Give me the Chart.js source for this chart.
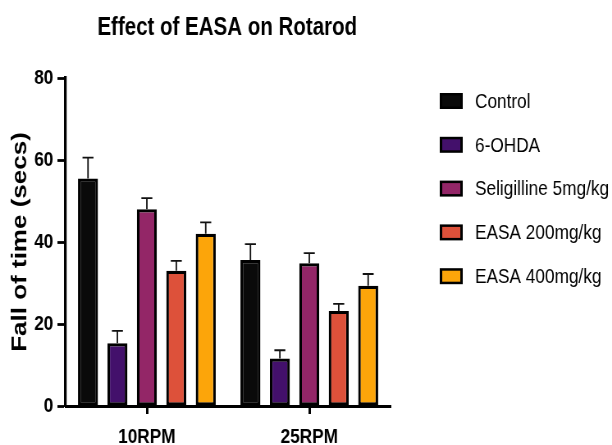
<!DOCTYPE html>
<html>
<head>
<meta charset="utf-8">
<script src="https://cdn.jsdelivr.net/npm/chart.js@4"></script>
<style>
  html, body { margin: 0; padding: 0; background: #fff; overflow: hidden; }
  #wrap { width: 612px; height: 445px; overflow: hidden; }
  /* the original figure is squeezed horizontally */
  #rotarodChart { transform: scaleX(0.8204); transform-origin: 0 0; display: block; }
</style>
</head>
<body>
<div id="wrap"><canvas id="rotarodChart" width="746" height="445"></canvas></div>
<script>
const categories = ['10RPM', '25RPM'];
const groups = ['Control', '6-OHDA', 'Seligilline 5mg/kg', 'EASA 200mg/kg', 'EASA 400mg/kg'];
const control = [55.5, 35.6];
const ohda = [15.3, 11.6];
const seligilline = [48.0, 34.8];
const easa200 = [33.0, 23.2];
const easa400 = [42.0, 29.3];
const controlErr = [5.1, 3.9];
const ohdaErr = [3.0, 2.0];
const seligilineErr = [2.7, 2.5];
const easa200Err = [2.4, 1.7];
const easa400Err = [2.8, 2.9];
const yTicks = [0, 20, 40, 60, 80];
const colors = ['#0a0a0a', '#43106b', '#932667', '#dd513a', '#fca50a'];

const font = "'Liberation Sans', Arial, sans-serif";

const values = [control, ohda, seligilline, easa200, easa400];
const errors = [controlErr, ohdaErr, seligilineErr, easa200Err, easa400Err];

// error bars (upper only, with a cap)
const errorBars = {
  id: 'errorBars',
  afterDatasetsDraw(chart) {
    const ctx = chart.ctx;
    const y = chart.scales.y;
    ctx.save();
    ctx.strokeStyle = '#111';
    ctx.lineWidth = 1.8;
    chart.data.datasets.forEach((ds, i) => {
      chart.getDatasetMeta(i).data.forEach((bar, j) => {
        const top = y.getPixelForValue(ds.data[j] + ds.errors[j]);
        ctx.beginPath();
        ctx.moveTo(bar.x, bar.y);
        ctx.lineTo(bar.x, top);
        ctx.moveTo(bar.x - 6.7, top);
        ctx.lineTo(bar.x + 6.7, top);
        ctx.stroke();
      });
    });
    ctx.restore();
  }
};

// title and legend on the right
const extras = {
  id: 'extras',
  afterDraw(chart) {
    const ctx = chart.ctx;
    ctx.save();
    ctx.fillStyle = '#000';
    ctx.font = "bold 25px " + font;
    ctx.textAlign = 'center';
    ctx.textBaseline = 'alphabetic';
    ctx.fillText('Effect of EASA on Rotarod', 277, 35);

    ctx.font = "21px " + font;
    ctx.textAlign = 'left';
    ctx.textBaseline = 'middle';
    chart.data.datasets.forEach((ds, i) => {
      const cy = 101 + i * 43.8;
      ctx.fillStyle = '#000';
      ctx.fillRect(536, cy - 8, 28, 16);
      ctx.fillStyle = ds.backgroundColor;
      ctx.fillRect(539, cy - 5.5, 22, 11);
      ctx.fillStyle = '#000';
      ctx.fillText(ds.label, 579, cy + 1);
    });
    ctx.restore();
  }
};

new Chart(document.getElementById('rotarodChart'), {
  type: 'bar',
  data: {
    labels: categories,
    datasets: groups.map((g, i) => ({
      label: g,
      data: values[i],
      errors: errors[i],
      backgroundColor: colors[i],
      borderColor: '#000',
      borderWidth: 3.2,
      borderSkipped: false,
      categoryPercentage: 0.906,
      barPercentage: 0.68
    }))
  },
  options: {
    responsive: false,
    animation: false,
    devicePixelRatio: 1,
    layout: { padding: { left: 0, right: 270, top: 78, bottom: 0 } },
    plugins: {
      legend: { display: false },
      tooltip: { enabled: false },
      title: { display: false }
    },
    scales: {
      x: {
        afterFit(scale) { scale.height = 39; },
        grid: { display: true, drawOnChartArea: false, offset: false, tickLength: 8, tickColor: '#000', tickWidth: 3 },
        border: { color: '#000', width: 3 },
        ticks: { color: '#000', padding: 11, font: { family: font, size: 21, weight: 'bold' } }
      },
      y: {
        min: 0,
        max: 80,
        afterFit(scale) { scale.width = 80; },
        afterBuildTicks(scale) { scale.ticks = yTicks.map(v => ({ value: v })); },
        grid: { display: true, drawOnChartArea: false, tickLength: 10, tickColor: '#000', tickWidth: 2.8 },
        border: { color: '#000', width: 3.2 },
        ticks: { color: '#000', padding: 5, font: { family: font, size: 21, weight: 'bold' } },
        title: {
          display: true,
          text: 'Fall of time (secs)',
          color: '#000',
          padding: { top: 9, bottom: 0 },
          font: { family: font, size: 26, weight: 'bold' }
        }
      }
    }
  },
  plugins: [errorBars, extras]
});
</script>
</body>
</html>
